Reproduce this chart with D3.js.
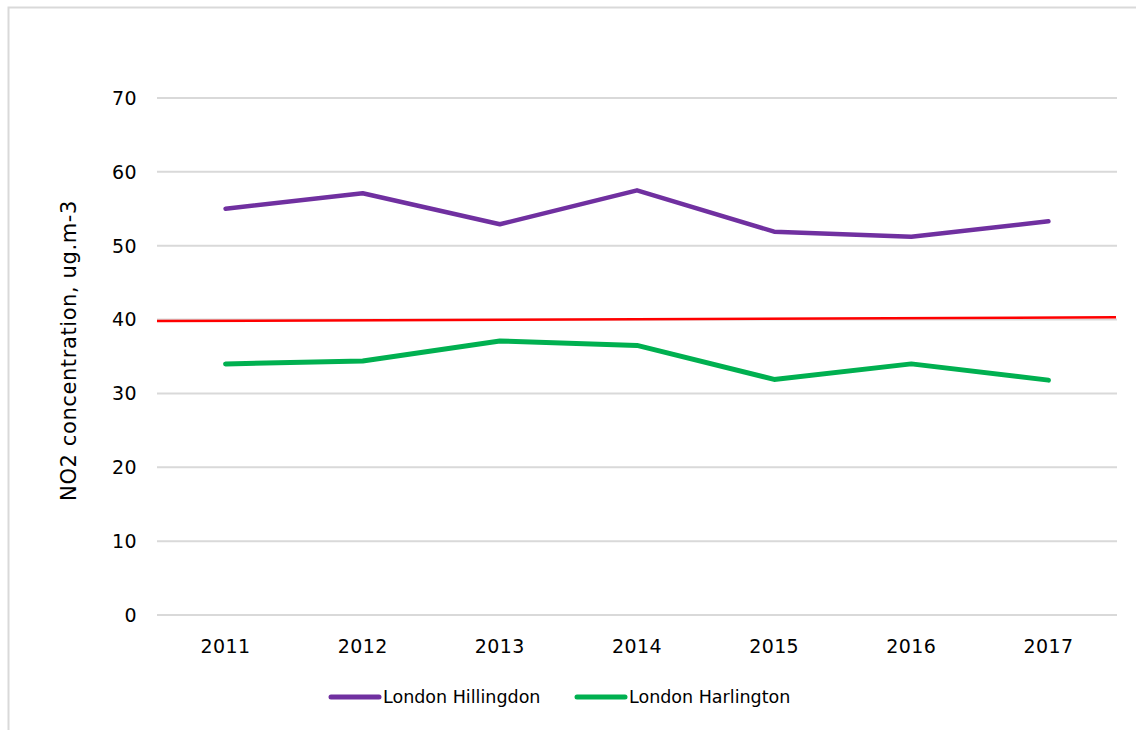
<!DOCTYPE html>
<html>
<head>
<meta charset="utf-8">
<script src="https://cdn.jsdelivr.net/npm/d3@7"></script>
<style>
  body { margin: 0; background: #fff; }
  text { font-family: "DejaVu Sans", "Liberation Sans", sans-serif; fill: #000; }
</style>
</head>
<body>
<svg id="chart" width="1136" height="730"></svg>
<script>
// Data
const years = ["2011", "2012", "2013", "2014", "2015", "2016", "2017"];
const hillingdon = [55.0, 57.1, 52.9, 57.5, 51.9, 51.2, 53.3];
const harlington = [34.0, 34.4, 37.1, 36.5, 31.9, 34.0, 31.8];
// limit line drawn across the whole plot (slightly tilted in the original)
const limitLine = [39.8, 40.3];
const yTicks = [0, 10, 20, 30, 40, 50, 60, 70];
const seriesNames = ["London Hillingdon", "London Harlington"];
const seriesColors = ["#7030A0", "#00B050"];

const svg = d3.select("#chart");

// outer chart border
svg.append("rect")
    .attr("x", 8.5).attr("y", 7.5)
    .attr("width", 1140).attr("height", 740)
    .attr("fill", "none")
    .attr("stroke", "#d9d9d9")
    .attr("stroke-width", 2);

const plotLeft = 157, plotRight = 1117, plotTop = 98, plotBottom = 615;

const x = d3.scaleLinear().domain([0, years.length]).range([plotLeft, plotRight]);
const y = d3.scaleLinear().domain([0, 70]).range([plotBottom, plotTop]);

// gridlines
svg.append("g")
    .selectAll("line")
    .data(yTicks)
    .enter()
    .append("line")
    .attr("x1", plotLeft).attr("x2", plotRight)
    .attr("y1", d => y(d)).attr("y2", d => y(d))
    .attr("stroke", "#d9d9d9")
    .attr("stroke-width", 2);

// y tick labels
svg.append("g")
    .selectAll("text")
    .data(yTicks)
    .enter()
    .append("text")
    .attr("x", 137)
    .attr("y", d => y(d))
    .attr("dy", "0.36em")
    .attr("text-anchor", "end")
    .style("font-size", "19px")
    .style("letter-spacing", "0.4px")
    .text(d => d);

// x tick labels
svg.append("g")
    .selectAll("text")
    .data(years)
    .enter()
    .append("text")
    .attr("x", (d, i) => x(i + 0.5))
    .attr("y", 653)
    .attr("text-anchor", "middle")
    .style("font-size", "19px")
    .style("letter-spacing", "0.4px")
    .text(d => d);

// y axis title
svg.append("text")
    .attr("transform", "translate(76," + ((plotTop + plotBottom) / 2 - 6) + ") rotate(-90)")
    .attr("text-anchor", "middle")
    .style("font-size", "21px")
    .style("letter-spacing", "0.6px")
    .text("NO2 concentration, ug.m-3");

// limit line
const limitX = d3.scaleLinear().domain([0, limitLine.length - 1]).range([plotLeft, plotRight - 1]);
svg.append("path")
    .datum(limitLine)
    .attr("d", d3.line().x((d, i) => limitX(i)).y(d => y(d)))
    .attr("fill", "none")
    .attr("stroke", "#FF0000")
    .attr("stroke-width", 2.5);

// series lines
const line = d3.line().x((d, i) => x(i + 0.5)).y(d => y(d));
[hillingdon, harlington].forEach(function (vals, k) {
    svg.append("path")
        .datum(vals)
        .attr("d", line)
        .attr("fill", "none")
        .attr("stroke", seriesColors[k])
        .attr("stroke-width", k === 0 ? 4.5 : 5)
        .attr("stroke-linejoin", "round")
        .attr("stroke-linecap", "round");
});

// Legend
const legendX = [331, 577];
const legend = svg.append("g");
const entry = legend.selectAll("g")
    .data(seriesNames)
    .enter()
    .append("g");

entry.append("line")
    .attr("x1", (d, i) => legendX[i])
    .attr("x2", (d, i) => legendX[i] + 48)
    .attr("y1", 697).attr("y2", 697)
    .attr("stroke", (d, i) => seriesColors[i])
    .attr("stroke-width", 5)
    .attr("stroke-linecap", "round");

entry.append("text")
    .attr("x", (d, i) => legendX[i] + 52)
    .attr("y", 697)
    .attr("dy", "0.36em")
    .style("font-size", "17.5px")
    .text(d => d);
</script>
</body>
</html>
